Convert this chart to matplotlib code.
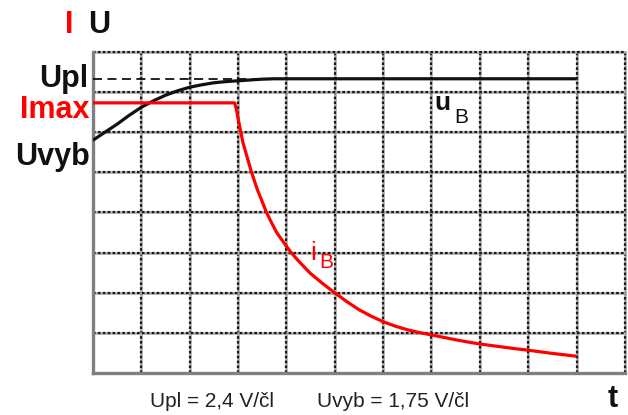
import matplotlib.pyplot as plt

# time axis in grid divisions, values in grid divisions (8 rows x 11 columns)
u_t = [0, 0.25, 0.5, 0.75, 1.0, 1.25, 1.5, 1.75, 2.0, 2.25, 2.5, 2.75,
       3.0, 3.25, 3.5, 3.75, 4.0, 10.0]
u_b = [5.8, 6.0, 6.2, 6.42, 6.62, 6.78, 6.92, 7.03, 7.12, 7.18, 7.23, 7.26,
       7.28, 7.3, 7.32, 7.33, 7.33, 7.33]

i_t = [0, 2.93, 2.97, 3.0, 3.05, 3.1, 3.2, 3.28, 3.4, 3.5, 3.59, 3.7, 3.8,
       3.9, 4.0, 4.1, 4.2, 4.3, 4.5, 4.75, 5.0, 5.25, 5.5, 5.75, 6.0, 6.25,
       6.5, 6.75, 7.0, 7.25, 7.5, 7.75, 8.0, 8.25, 8.5, 8.75, 9.0, 9.25,
       9.5, 9.75, 10.0]
i_b = [6.73, 6.73, 6.55, 6.35, 6.05, 5.75, 5.33, 5.0, 4.57, 4.27, 4.0, 3.73,
       3.5, 3.33, 3.16, 3.0, 2.86, 2.73, 2.48, 2.23, 2.0, 1.78, 1.58, 1.42,
       1.28, 1.17, 1.08, 1.01, 0.95, 0.89, 0.83, 0.775, 0.725, 0.685, 0.645,
       0.605, 0.57, 0.53, 0.49, 0.455, 0.42]

u_pl = 7.33
u_pl_end = 3.4

n_cols = 11
n_rows = 8

RED = "#ff0000"
FONT = "Liberation Sans"

fig = plt.figure(figsize=(6.28, 4.15), dpi=100)
ax = fig.add_axes([0.148, 0.101, 0.847, 0.774])
ax.set_xlim(0, n_cols)
ax.set_ylim(0, n_rows)
ax.axis("off")

# dotted oscilloscope grid
for x in range(1, n_cols + 1):
    ax.axvline(x, color="#a8a8a8", lw=1.8, zorder=1, clip_on=False)
    ax.axvline(x, color="#1a1a1a", lw=1.6, ls=(0, (1.2, 1.0)), zorder=1, clip_on=False)
for y in range(1, n_rows + 1):
    ax.axhline(y, color="#a8a8a8", lw=1.8, zorder=1, clip_on=False)
    ax.axhline(y, color="#1a1a1a", lw=1.6, ls=(0, (1.2, 1.0)), zorder=1, clip_on=False)
ax.axvline(0, color="#808080", lw=2.4, zorder=2, clip_on=False)
ax.axhline(0, color="#808080", lw=2.4, zorder=2, clip_on=False)

ax.plot([0, u_pl_end], [u_pl, u_pl], color="#111111", lw=1.3, ls=(0, (5, 3)), zorder=3)
ax.plot(u_t, u_b, color="#111111", lw=2.3, zorder=4,
        solid_capstyle="butt", solid_joinstyle="round")
ax.plot(i_t, i_b, color=RED, lw=2.3, zorder=5,
        solid_capstyle="butt", solid_joinstyle="round")

# axis captions
fig.text(73 / 628, 1 - 33 / 415, "I", color=RED, fontsize=22, fontweight="bold",
         family=FONT, ha="right", va="baseline")
fig.text(88 / 628, 1 - 33 / 415, "U", color="#111111", fontsize=22, fontweight="bold",
         family=FONT, ha="left", va="baseline")
fig.text(88 / 628, 1 - 87 / 415, "Upl", color="#111111", fontsize=22, fontweight="bold",
         family=FONT, ha="right", va="baseline")
fig.text(90 / 628, 1 - 118 / 415, "Imax", color=RED, fontsize=22, fontweight="bold",
         family=FONT, ha="right", va="baseline")
fig.text(90 / 628, 1 - 165 / 415, "Uvyb", color="#111111", fontsize=22, fontweight="bold",
         family=FONT, ha="right", va="baseline")

# curve labels
fig.text(434 / 628, 1 - 110 / 415, "u", color="#111111", fontsize=19, fontweight="semibold",
         family=FONT, ha="left", va="baseline")
fig.text(454 / 628, 1 - 123 / 415, "B", color="#111111", fontsize=15,
         family=FONT, ha="left", va="baseline")
fig.text(310 / 628, 1 - 260 / 415, "i", color=RED, fontsize=19,
         family=FONT, ha="left", va="baseline")
fig.text(319 / 628, 1 - 268 / 415, "B", color=RED, fontsize=15,
         family=FONT, ha="left", va="baseline")

# scale notes and time axis
fig.text(150 / 628, 1 - 407 / 415, "Upl = 2,4 V/čl", color="#222222", fontsize=15,
         family=FONT, ha="left", va="baseline")
fig.text(317 / 628, 1 - 407 / 415, "Uvyb = 1,75 V/čl", color="#222222", fontsize=15,
         family=FONT, ha="left", va="baseline")
fig.text(618 / 628, 1 - 407 / 415, "t", color="#111111", fontsize=22, fontweight="bold",
         family=FONT, ha="right", va="baseline")

fig.savefig("out.png", dpi=100)
